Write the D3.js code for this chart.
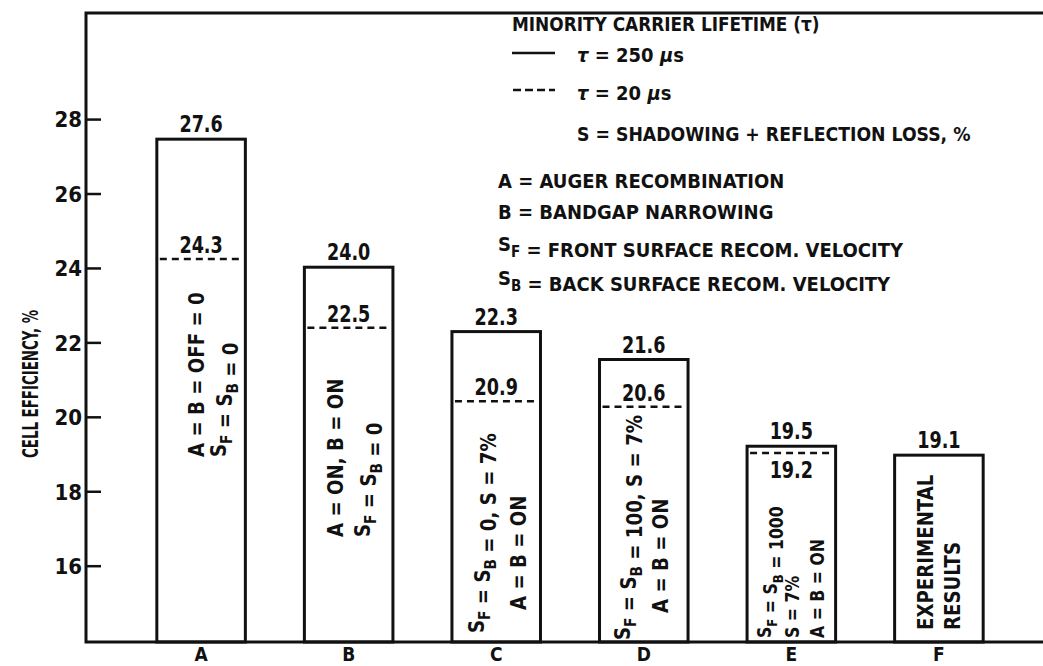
<!DOCTYPE html>
<html>
<head>
<meta charset="utf-8">
<script src="https://cdn.jsdelivr.net/npm/d3@7"></script>
<style>
  body { margin: 0; background: #fff; }
  svg text { font-family: 'DejaVu Sans Condensed', 'DejaVu Sans', sans-serif; font-weight: bold; fill: #111; }
</style>
</head>
<body>
<div id="chart"></div>
<script>
// values
const categories = ["A", "B", "C", "D", "E", "F"];
const tau250 = [27.46, 24.02, 22.29, 21.54, 19.21, 18.97];
const tau20 = [24.24, 22.39, 20.42, 20.27, 19.03, null];
const tau250Labels = ["27.6", "24.0", "22.3", "21.6", "19.5", "19.1"];
const tau20Labels = ["24.3", "22.5", "20.9", "20.6", "19.2", null];
const yTicks = [16, 18, 20, 22, 24, 26, 28];
const barNotes = [
    ["A = B = OFF = 0", "S_F = S_B = 0"],
    ["A = ON, B = ON", "S_F = S_B = 0"],
    ["S_F = S_B = 0, S = 7%", "A = B = ON"],
    ["S_F = S_B = 100, S = 7%", "A = B = ON"],
    ["S_F = S_B = 1000", "S = 7%", "A = B = ON"],
    ["EXPERIMENTAL", "RESULTS"]
];
const defs = [
    "A = AUGER RECOMBINATION",
    "B = BANDGAP NARROWING",
    "S_F = FRONT SURFACE RECOM. VELOCITY",
    "S_B = BACK SURFACE RECOM. VELOCITY"
];

// where the rotated notes sit inside each bar: [x offset of baseline from centre, y start]
const notePos = [
    [[3, 457], [25, 457]],
    [[-6, 537], [21, 537]],
    [[-12, 633], [30, 610]],
    [[-14, 640], [24, 613]],
    [[-20, 638], [8, 638], [33, 638]],
    [[-6, 630], [21, 630]]
];

const W = 1043, H = 666;
const plotLeft = 86, plotTop = 13, plotBottom = 642;

const svg = d3.select("#chart").append("svg")
    .attr("width", W)
    .attr("height", H);

const y = d3.scaleLinear().domain([13.95, 30.85]).range([plotBottom, plotTop]);
const x = d3.scaleBand().domain(categories).range([plotLeft, 1054])
    .paddingInner(0.4).paddingOuter(0.48);

// puts "S_F" style subscripts into tspans
function addRich(sel, str, size) {
    const parts = str.split(/(_\w)/);
    parts.forEach(p => {
        if (!p) return;
        if (p[0] === "_") {
            sel.append("tspan").attr("dy", 6).attr("font-size", size * 0.75).text(p[1]);
            sel.append("tspan").attr("dy", -6).text("");
        } else {
            sel.append("tspan").text(p);
        }
    });
}

// squeeze text sideways, the lettering in the original is narrow
function condense(sel, f) {
    sel.each(function() {
        const w = this.getComputedTextLength();
        d3.select(this).attr("textLength", w * f).attr("lengthAdjust", "spacingAndGlyphs");
    });
}

// frame
svg.append("path")
    .attr("d", `M${W},${plotTop}H${plotLeft}V${plotBottom}H${W}`)
    .attr("fill", "none")
    .attr("stroke", "#111")
    .attr("stroke-width", 3);

// y axis
const yAxis = svg.append("g")
    .attr("transform", `translate(${plotLeft},0)`)
    .call(d3.axisLeft(y).tickValues(yTicks).tickSize(-15).tickPadding(4));
yAxis.select(".domain").remove();
yAxis.selectAll("line").attr("stroke", "#111").attr("stroke-width", 2.5);
yAxis.selectAll("text").attr("font-size", 22).attr("dy", "0.36em")
    .style("font-family", "'DejaVu Sans Condensed', sans-serif")
    .style("font-weight", "bold").attr("fill", "#111");

svg.append("text")
    .attr("transform", "translate(38,384) rotate(-90)")
    .attr("text-anchor", "middle")
    .attr("font-size", 21)
    .attr("textLength", 148)
    .attr("lengthAdjust", "spacingAndGlyphs")
    .text("CELL EFFICIENCY, %");

// x axis labels
const xAxis = svg.append("g")
    .attr("transform", `translate(0,${plotBottom})`)
    .call(d3.axisBottom(x).tickSize(0));
xAxis.select(".domain").remove();
xAxis.selectAll("text").attr("y", 19).attr("dy", 0).attr("font-size", 19)
    .style("font-family", "'DejaVu Sans Condensed', sans-serif")
    .style("font-weight", "bold").attr("fill", "#111");

// bars (tau = 250 us)
svg.selectAll(".bar")
    .data(categories)
    .enter().append("rect")
    .attr("class", "bar")
    .attr("x", d => x(d))
    .attr("y", (d, i) => y(tau250[i]))
    .attr("width", x.bandwidth())
    .attr("height", (d, i) => y(13.95) - y(tau250[i]))
    .attr("fill", "none")
    .attr("stroke", "#111")
    .attr("stroke-width", 3);

svg.selectAll(".lab250")
    .data(categories)
    .enter().append("text")
    .attr("class", "lab250")
    .attr("x", d => x(d) + x.bandwidth() / 2)
    .attr("y", (d, i) => y(tau250[i]) - 7)
    .attr("text-anchor", "middle")
    .attr("font-size", 23)
    .text((d, i) => tau250Labels[i])
    .call(condense, 0.85);

// dashed lines (tau = 20 us)
const dashed = categories.map((c, i) => ({c, v: tau20[i], lab: tau20Labels[i], i}))
    .filter(d => d.v != null);

svg.selectAll(".dash")
    .data(dashed)
    .enter().append("line")
    .attr("class", "dash")
    .attr("x1", d => x(d.c) + 3)
    .attr("x2", d => x(d.c) + x.bandwidth() - 3)
    .attr("y1", d => y(d.v))
    .attr("y2", d => y(d.v))
    .attr("stroke", "#111")
    .attr("stroke-width", 2.5)
    .attr("stroke-dasharray", "7,5");

svg.selectAll(".lab20")
    .data(dashed)
    .enter().append("text")
    .attr("class", "lab20")
    .attr("x", d => x(d.c) + x.bandwidth() / 2)
    .attr("y", d => d.c === "E" ? y(d.v) + 25 : y(d.v) - 6)
    .attr("text-anchor", "middle")
    .attr("font-size", 23)
    .text(d => d.lab)
    .call(condense, 0.85);

// rotated notes inside bars
categories.forEach((c, i) => {
    const cx = x(c) + x.bandwidth() / 2;
    const fs = c === "E" ? 19 : 22;
    barNotes[i].forEach((line, j) => {
        const p = notePos[i][j];
        const t = svg.append("text")
            .attr("transform", `translate(${cx + p[0]},${p[1]}) rotate(-90)`)
            .attr("font-size", fs);
        addRich(t, line, fs);
        t.call(condense, 0.92);
    });
});

// legend
const lg = svg.append("g");
lg.append("text").attr("x", 512).attr("y", 31).attr("font-size", 20)
    .text("MINORITY CARRIER LIFETIME (τ)")
    .call(condense, 0.94);
lg.append("line").attr("x1", 512).attr("x2", 555).attr("y1", 53).attr("y2", 53)
    .attr("stroke", "#111").attr("stroke-width", 2.5);
lg.append("line").attr("x1", 513).attr("x2", 555).attr("y1", 90).attr("y2", 90)
    .attr("stroke", "#111").attr("stroke-width", 2.5).attr("stroke-dasharray", "8,4");
[["250", 62], ["20", 100]].forEach(([v, yy]) => {
    lg.append("text").attr("x", 577).attr("y", yy).attr("font-size", 20)
        .call(t => {
            t.append("tspan").attr("font-style", "italic").text("τ");
            t.append("tspan").text(" = " + v + " ");
            t.append("tspan").attr("font-style", "italic").text("μ");
            t.append("tspan").text("s");
        });
});
lg.append("text").attr("x", 577).attr("y", 141).attr("font-size", 20)
    .text("S = SHADOWING + REFLECTION LOSS, %")
    .call(condense, 0.96);

const defY = [188, 219, 251, 285];
defs.forEach((d, i) => {
    const t = lg.append("text").attr("x", 498).attr("y", defY[i]).attr("font-size", 20);
    addRich(t, d, 20);
});
</script>
</body>
</html>
